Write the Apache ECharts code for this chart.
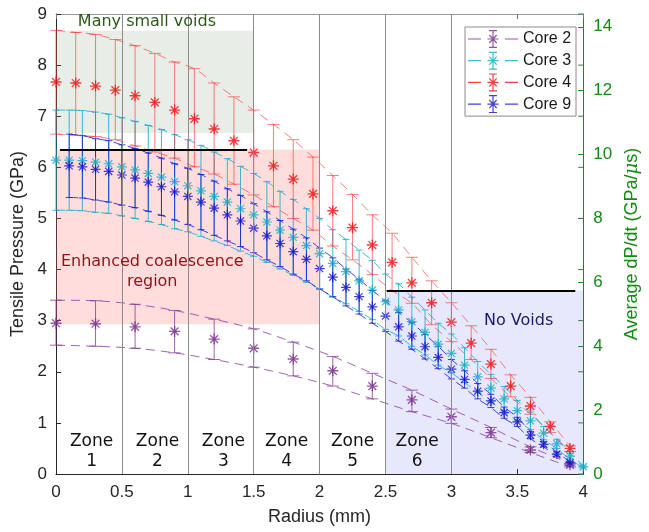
<!DOCTYPE html>
<html><head><meta charset="utf-8">
<script src="https://cdn.jsdelivr.net/npm/echarts@6/dist/echarts.min.js"></script>
<style>html,body{margin:0;padding:0;background:#fff}#c{width:649px;height:532px}</style>
</head><body><div id="c"></div>
<script>
// ---------- data ----------
const radius2 = [0,0.3,0.6,0.9,1.2,1.5,1.8,2.1,2.4,2.7,3.0,3.3,3.6,3.9];
const core2   = [2.95,2.94,2.88,2.79,2.64,2.46,2.25,2.02,1.72,1.45,1.12,0.81,0.47,0.18];
const core2Hi = [3.40,3.39,3.32,3.20,3.03,2.84,2.58,2.30,1.97,1.64,1.27,0.91,0.53,0.21];
const core2Lo = [2.52,2.50,2.46,2.37,2.24,2.09,1.92,1.72,1.47,1.22,0.99,0.71,0.42,0.14];

const radius4 = [0,0.15,0.3,0.45,0.6,0.75,0.9,1.05,1.2,1.35,1.5,1.65,1.8,1.95,2.1,2.25,2.4,2.55,2.7,2.85,3.0,3.15,3.3,3.45,3.6,3.75,3.9];
const core4   = [7.67,7.65,7.59,7.51,7.40,7.27,7.12,6.95,6.75,6.52,6.29,6.03,5.77,5.48,5.15,4.82,4.48,4.14,3.74,3.35,2.97,2.56,2.15,1.72,1.33,0.93,0.50];
const core4Hi = [8.68,8.64,8.60,8.50,8.38,8.23,8.06,7.93,7.65,7.38,7.12,6.84,6.54,6.20,5.84,5.47,5.07,4.71,4.24,3.78,3.35,2.90,2.44,1.94,1.50,1.02,0.55];
const core4Lo = [6.65,6.63,6.60,6.54,6.42,6.30,6.18,6.01,5.87,5.67,5.46,5.23,5.00,4.77,4.46,4.19,3.90,3.59,3.34,2.92,2.59,2.24,1.87,1.51,1.17,0.81,0.44];

const radius3 = [0,0.1,0.2,0.3,0.4,0.5,0.6,0.7,0.8,0.9,1.0,1.1,1.2,1.3,1.4,1.5,1.6,1.7,1.8,1.9,2.0,2.1,2.2,2.3,2.4,2.5,2.6,2.7,2.8,2.9,3.0,3.1,3.2,3.3,3.4,3.5,3.6,3.7,3.8,3.9,4.0];
const core3    = [6.14,6.14,6.13,6.10,6.07,6.01,5.95,5.88,5.81,5.72,5.64,5.54,5.43,5.32,5.19,5.07,4.93,4.77,4.63,4.47,4.31,4.12,3.96,3.78,3.60,3.37,3.21,2.98,2.77,2.54,2.36,2.13,1.90,1.68,1.47,1.24,1.04,0.80,0.59,0.35,0.14];
const core3Err = [0.98,0.98,0.98,0.98,0.97,0.96,0.95,0.94,0.93,0.92,0.90,0.89,0.87,0.85,0.83,0.81,0.79,0.76,0.74,0.72,0.69,0.66,0.63,0.60,0.58,0.54,0.51,0.48,0.44,0.41,0.38,0.34,0.30,0.27,0.24,0.20,0.17,0.13,0.09,0.06,0.02];

const radius9 = [0.1,0.2,0.3,0.4,0.5,0.6,0.7,0.8,0.9,1.0,1.1,1.2,1.3,1.4,1.5,1.6,1.7,1.8,1.9,2.0,2.1,2.2,2.3,2.4,2.5,2.6,2.7,2.8,2.9,3.0,3.1,3.2,3.3,3.4,3.5,3.6,3.7,3.8,3.9];
const core9    = [6.03,6.01,5.96,5.92,5.85,5.79,5.71,5.62,5.52,5.43,5.32,5.20,5.07,4.95,4.81,4.66,4.51,4.35,4.20,4.02,3.85,3.65,3.47,3.27,3.09,2.88,2.70,2.49,2.28,2.05,1.85,1.62,1.43,1.20,1.02,0.76,0.58,0.39,0.22];
const core9Err = [0.62,0.61,0.60,0.60,0.59,0.58,0.57,0.56,0.55,0.55,0.54,0.53,0.51,0.50,0.48,0.47,0.45,0.44,0.42,0.40,0.38,0.36,0.34,0.32,0.30,0.28,0.26,0.24,0.22,0.19,0.17,0.15,0.13,0.11,0.09,0.07,0.05,0.04,0.02];

const leftTicks = [0,1,2,3,4,5,6,7,8,9];
const zoneEdges = [0.5,1,1.5,2,2.5,3];
const zoneLabels = ['1','2','3','4','5','6'];
const zoneCenters = [0.27,0.77,1.27,1.75,2.25,2.74];
// shaded regions [x0,y0,x1,y1]
const regionVoids = [0,6.67,1.5,8.67];
const regionCoal  = [0,2.93,2,6.35];
const regionNone  = [2.5,0,4,3.59];
const thresholdLines = [[0.03,6.35,1.45,6.35],[2.51,3.59,3.94,3.59]];

// ---------- helpers ----------
const AST = 'path://M8.8 0 H11.2 V20 H8.8 Z M0 8.8 H20 V11.2 H0 Z M2.05 3.75 L3.75 2.05 L17.95 16.25 L16.25 17.95 Z M16.25 2.05 L17.95 3.75 L3.75 17.95 L2.05 16.25 Z';
const LEGICON = 'path://M0 9.4 H13 V10.6 H0 Z M37 9.4 H50 V10.6 H37 Z M24.4 1 H25.6 V19 H24.4 Z M21 1 H29 V2.2 H21 Z M21 17.8 H29 V19 H21 Z M19.5 9.4 H30.5 V10.6 H19.5 Z M20.9 6.4 L21.8 5.5 L29.1 13.6 L28.2 14.5 Z M28.2 5.5 L29.1 6.4 L21.8 14.5 L20.9 13.6 Z';

function zip(xs, ys){ return xs.map((x,i)=>[x,ys[i]]); }
function errRender(capHalf, color){
  return function(params, api){
    const x = api.value(0), lo = api.value(1), hi = api.value(2);
    const a = api.coord([x, lo]), b = api.coord([x, hi]);
    const st = {stroke: color, lineWidth: 1};
    return {type:'group', children:[
      {type:'line', shape:{x1:a[0],y1:a[1],x2:b[0],y2:b[1]}, style:st},
      {type:'line', shape:{x1:a[0]-capHalf,y1:a[1],x2:a[0]+capHalf,y2:a[1]}, style:st},
      {type:'line', shape:{x1:b[0]-capHalf,y1:b[1],x2:b[0]+capHalf,y2:b[1]}, style:st}
    ]};
  };
}
function coreSeries(name, xs, vals, lo, hi, color, barColor, capHalf, size){
  return [
    {name, type:'scatter', z:4, symbol:AST, symbolSize:size, itemStyle:{color}, data: zip(xs, vals), animation:false},
    {name, type:'custom', z:3, renderItem: errRender(capHalf, barColor), itemStyle:{color},
     encode:{x:0,y:[1,2]}, data: xs.map((x,i)=>[x, lo[i], hi[i]]), animation:false},
    {name, type:'line', z:3, symbol:'none', smooth:0.3, lineStyle:{color:barColor,width:1,type:[9,6]}, itemStyle:{color}, data: zip(xs, hi), animation:false},
    {name, type:'line', z:3, symbol:'none', smooth:0.3, lineStyle:{color:barColor,width:1,type:[9,6]}, itemStyle:{color}, data: zip(xs, lo), animation:false}
  ];
}

const c3Lo = core3.map((v,i)=>+(v-core3Err[i]).toFixed(3));
const c3Hi = core3.map((v,i)=>+(v+core3Err[i]).toFixed(3));
const c9Lo = core9.map((v,i)=>+(v-core9Err[i]).toFixed(3));
const c9Hi = core9.map((v,i)=>+(v+core9Err[i]).toFixed(3));

const AX = 'Liberation Sans, Arial, sans-serif';
const AN = 'DejaVu Sans, Verdana, sans-serif';
const GREEN = '#168A16';

const option = {
  animation:false,
  grid:{left:56, right:64, top:14, bottom:58},
  legend:{
    orient:'vertical', left:465, top:27, itemWidth:50, itemHeight:18, itemGap:3.7,
    padding:[3,5,3,3], borderColor:'#8a8a8a', borderWidth:1, backgroundColor:'#fff',
    textStyle:{fontFamily:AX, fontSize:16, color:'#1a1a1a'},
    data:[{name:'Core 2',icon:LEGICON},{name:'Core 3',icon:LEGICON},{name:'Core 4',icon:LEGICON},{name:'Core 9',icon:LEGICON}]
  },
  xAxis:[
    {type:'value', min:0, max:4, interval:0.5, position:'bottom',
     name:'Radius (mm)', nameLocation:'middle', nameGap:34,
     nameTextStyle:{fontFamily:AX, fontSize:18, color:'#262626'},
     axisLine:{onZero:false, lineStyle:{color:'#262626'}}, axisTick:{inside:true, length:5, lineStyle:{color:'#262626'}},
     axisLabel:{fontFamily:AX, fontSize:17, color:'#262626', margin:10, formatter:v=>String(v)},
     splitLine:{show:false}},
    {type:'value', min:0, max:4, interval:0.5, position:'top',
     axisLine:{onZero:false, lineStyle:{color:'#9a9a9a'}}, axisTick:{inside:true, length:5, lineStyle:{color:'#777'}},
     axisLabel:{show:false}, splitLine:{show:false}}
  ],
  yAxis:[
    {type:'value', min:0, max:9, interval:1, position:'left',
     name:'Tensile Pressure (GPa)', nameLocation:'middle', nameGap:28,
     nameTextStyle:{fontFamily:AX, fontSize:18, color:'#262626'},
     axisLine:{show:true, onZero:false, lineStyle:{color:'#262626'}}, axisTick:{show:true, inside:true, length:5, lineStyle:{color:'#262626'}},
     axisLabel:{fontFamily:AX, fontSize:17, color:'#262626', margin:9}, splitLine:{show:false}},
    {type:'value', min:0, max:14.4, interval:2, position:'right',
     name:'Average dP/dt (GPa/{i|μ}s)', nameLocation:'middle', nameGap:33,
     nameTextStyle:{fontFamily:AX, fontSize:18, color:GREEN, rich:{i:{fontStyle:'italic', fontFamily:'DejaVu Serif, serif', fontSize:18, color:GREEN}}},
     axisLine:{show:true, onZero:false, lineStyle:{color:GREEN}}, axisTick:{show:true, inside:true, length:5, lineStyle:{color:GREEN}},
     axisLabel:{fontFamily:AX, fontSize:17, color:GREEN, margin:10, showMaxLabel:false}, splitLine:{show:false}}
  ],
  series: [].concat(
    coreSeries('Core 2', radius2, core2, core2Lo, core2Hi, '#7A2A8C', 'rgba(128,50,150,0.75)', 6, 11),
    coreSeries('Core 3', radius3, core3, c3Lo, c3Hi, '#12AAC6', 'rgba(10,170,200,0.8)', 3.5, 10),
    coreSeries('Core 4', radius4, core4, core4Lo, core4Hi, '#F01010', 'rgba(255,40,40,0.6)', 6, 11),
    coreSeries('Core 9', radius9, core9, c9Lo, c9Hi, '#1212C8', 'rgba(20,20,210,0.8)', 3.5, 10),
    [
      {type:'line', z:6, data:[], silent:true, animation:false,
       markArea:{silent:true, data:[
         [{coord:[regionVoids[0],regionVoids[1]], itemStyle:{color:'rgba(140,160,125,0.19)'}},{coord:[regionVoids[2],regionVoids[3]]}],
         [{coord:[regionCoal[0],regionCoal[1]], itemStyle:{color:'rgba(255,110,110,0.23)'}},{coord:[regionCoal[2],regionCoal[3]]}],
         [{coord:[regionNone[0],regionNone[1]], itemStyle:{color:'rgba(110,110,235,0.16)'}},{coord:[regionNone[2],regionNone[3]]}]
       ]},
       markLine:{silent:true, symbol:['none','none'], label:{show:false},
         lineStyle:{color:'#8c8c8c', width:1, type:'solid'},
         data: zoneEdges.map(x=>[{coord:[x,0]},{coord:[x,9]}])}
      },
      {type:'line', z:7, data:[], silent:true, animation:false,
       markLine:{silent:true, symbol:['none','none'], label:{show:false},
         lineStyle:{color:'#000', width:2, type:'solid'},
         data: thresholdLines.map(l=>[{coord:[l[0],l[1]]},{coord:[l[2],l[3]]}])}
      },
      {type:'custom', z:7, silent:true, animation:false, data: leftTicks.map(v=>[4,v]),
       renderItem:function(params, api){
         const p = api.coord([api.value(0), api.value(1)]);
         return {type:'line', shape:{x1:p[0]-5,y1:p[1],x2:p[0],y2:p[1]}, style:{stroke:'#3f7a3f', lineWidth:1}};
       }}
    ]
  )
};
const chart = echarts.init(document.getElementById('c'), null, {renderer:'canvas'});
chart.setOption(option);

// annotation texts positioned from data coordinates
function txt(x, y, s, color, size){
  const p = chart.convertToPixel({xAxisIndex:0, yAxisIndex:0}, [x, y]);
  return {type:'text', x:p[0], y:p[1], z:100, silent:true,
    style:{text:s, fill:color, font:'normal '+size+'px '+AN, align:'center', verticalAlign:'middle', lineHeight:20}};
}
const g = [
  txt(0.69, 8.85, 'Many small voids', '#2A5A18', 16),
  txt(0.73, 3.96, 'Enhanced coalescence\nregion', '#8C1414', 16),
  txt(3.51, 2.99, 'No Voids', '#1A1A70', 16)
].concat(zoneCenters.map((x,i)=>txt(x, 0.44, 'Zone\n'+zoneLabels[i], '#111', 17)));
chart.setOption({graphic:{elements:g}});
</script></body></html>
